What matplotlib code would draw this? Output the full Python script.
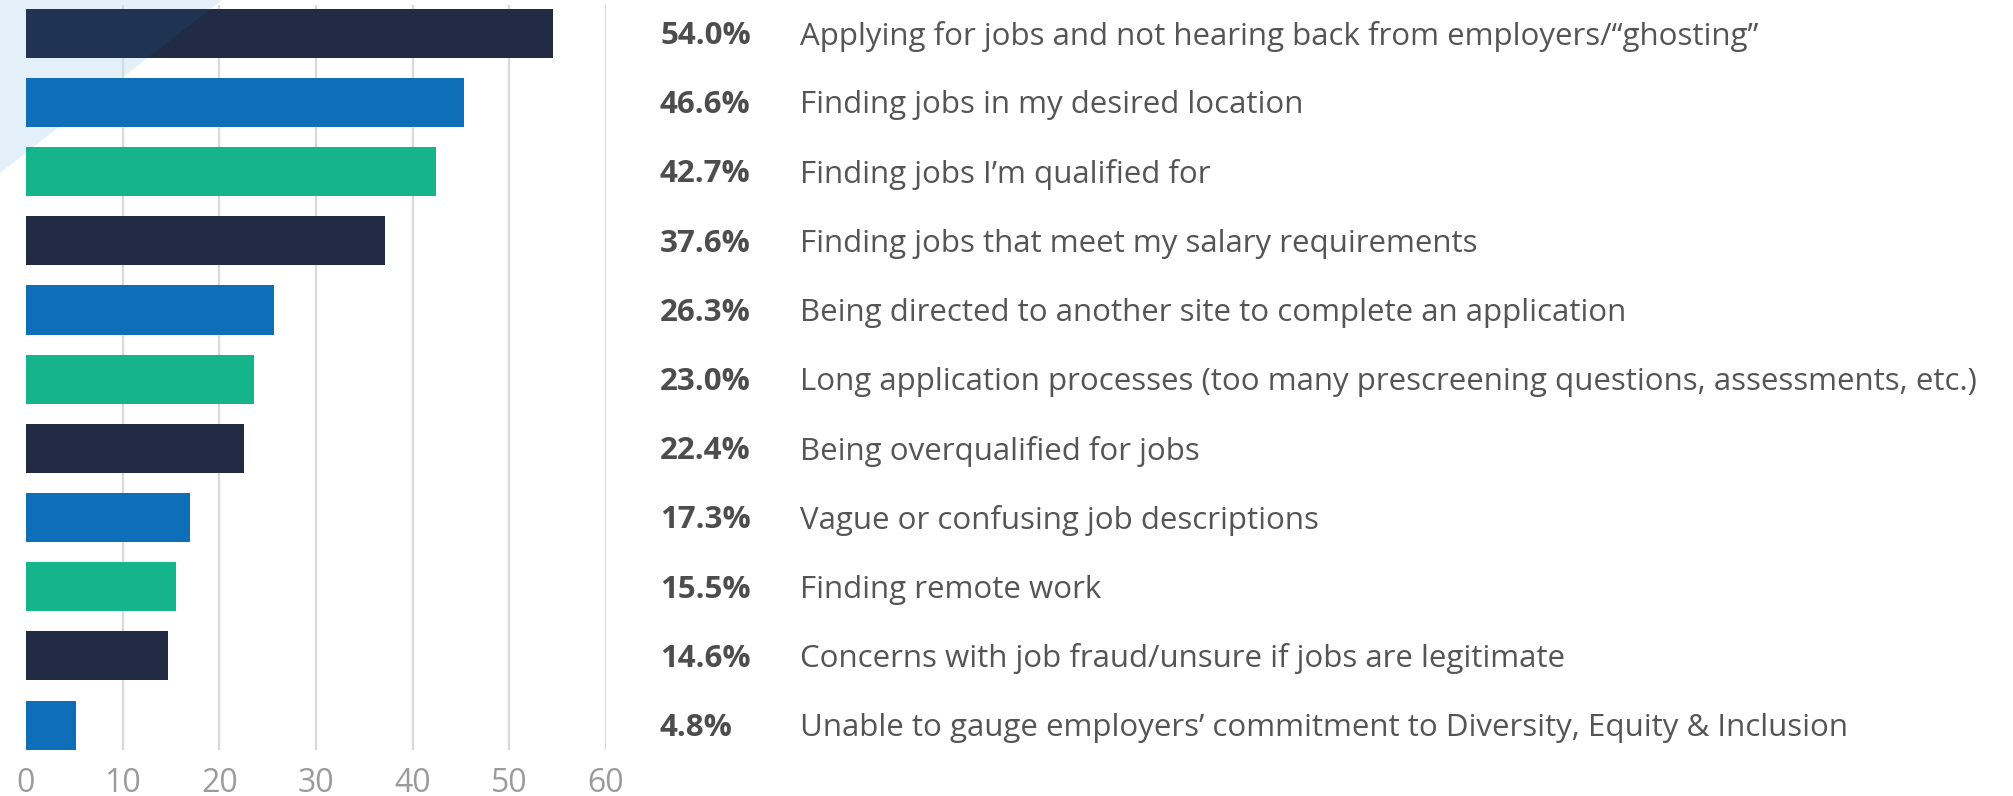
import matplotlib.pyplot as plt
from matplotlib.patches import Polygon
from matplotlib.transforms import blended_transform_factory

plt.rcParams['font.family'] = ['Open Sans', 'DejaVu Sans']

# -----------------------------
# Data
# -----------------------------
labels = [
    "Applying for jobs and not hearing back from employers/\u201cghosting\u201d",
    "Finding jobs in my desired location",
    "Finding jobs I\u2019m qualified for",
    "Finding jobs that meet my salary requirements",
    "Being directed to another site to complete an application",
    "Long application processes (too many prescreening questions, assessments, etc.)",
    "Being overqualified for jobs",
    "Vague or confusing job descriptions",
    "Finding remote work",
    "Concerns with job fraud/unsure if jobs are legitimate",
    "Unable to gauge employers\u2019 commitment to Diversity, Equity & Inclusion",
]
pct = [54.0, 46.6, 42.7, 37.6, 26.3, 23.0, 22.4, 17.3, 15.5, 14.6, 4.8]
# bar lengths as drawn in the source graphic (slightly off from the printed %)
bar_len = [54.5, 45.3, 42.4, 37.1, 25.7, 23.6, 22.6, 17.0, 15.5, 14.7, 5.2]
ticks = [0, 10, 20, 30, 40, 50, 60]

palette = ["#222b44", "#0e6eb8", "#16b48a"]
colors = [palette[i % 3] for i in range(len(labels))]

# -----------------------------
# Figure
# -----------------------------
W, H = 2013, 796
fig = plt.figure(figsize=(W / 100, H / 100), dpi=100)

# light decorative triangle in the corner
tri_pts = [(0, 1), (222 / W, 1), (0, 1 - 173 / H)]
fig.patches.append(Polygon(tri_pts, closed=True, transform=fig.transFigure,
                           facecolor="#e4f0f9", edgecolor="none", zorder=-5))

ax = fig.add_axes([26 / W, 46 / H, 580 / W, 745 / H])
ax.patch.set_alpha(0)

y = list(range(len(labels)))
bars = ax.barh(y, bar_len, height=0.71, color=colors, zorder=3)

ax.set_xlim(0, 60)
ax.set_ylim(10.36, -0.41)
ax.vlines(ticks[1:], -0.41, 10.36, colors="#d9d9d9", linewidth=1.6, zorder=1)

# faint tint of the triangle where it crosses the top bars
for b in bars[:3]:
    tint = Polygon(tri_pts, closed=True, transform=fig.transFigure,
                   facecolor="#0e6eb8", alpha=0.12, edgecolor="none", zorder=5)
    fig.patches.append(tint)
    tint.set_clip_path(b)

for s in ax.spines.values():
    s.set_visible(False)
ax.set_yticks([])
ax.set_xticks(ticks)
ax.tick_params(axis="x", length=0, pad=12, labelsize=23, labelcolor="#9b9b9b")

# labels to the right of the chart
tr = blended_transform_factory(fig.transFigure, ax.transData)
for i, (p, lab) in enumerate(zip(pct, labels)):
    ax.text(660 / W, i + 0.04, f"{p:.1f}%", transform=tr, ha="left", va="center",
            fontsize=22.5, fontweight="bold", color="#4d4d4d")
    ax.text(800 / W, i + 0.04, lab, transform=tr, ha="left", va="center",
            fontsize=22.5, color="#555555")

fig.savefig("out.png", dpi=100)
